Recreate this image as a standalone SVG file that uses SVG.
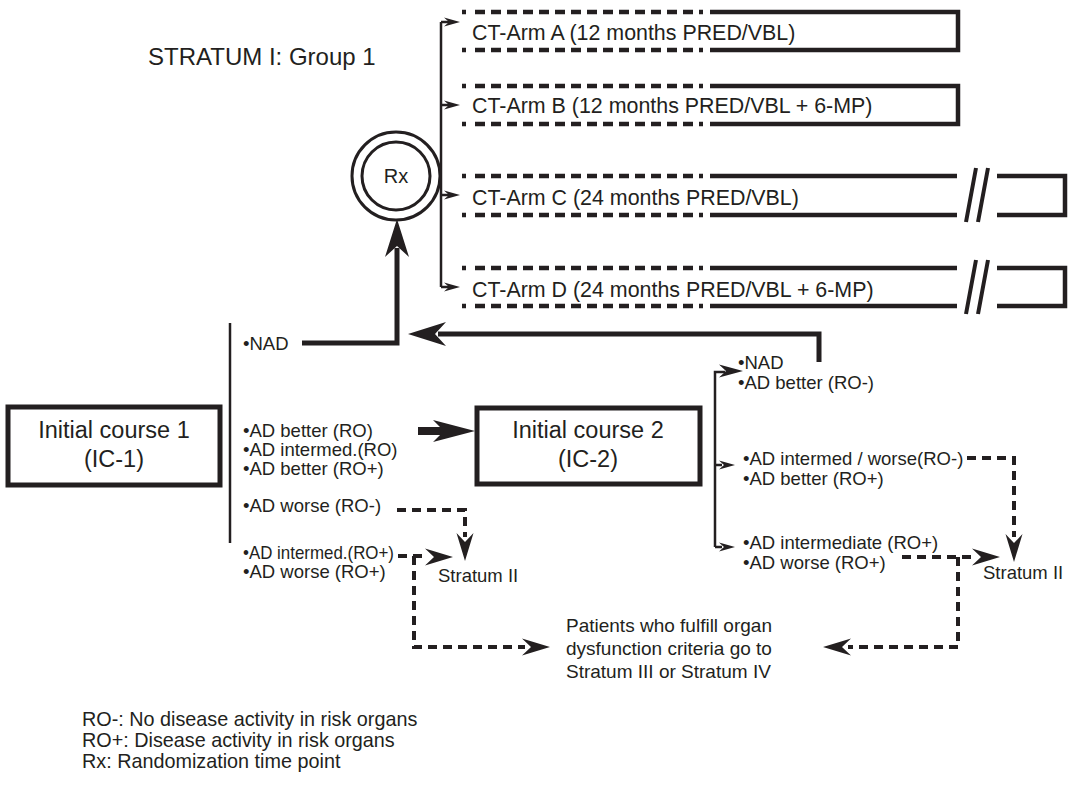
<svg xmlns="http://www.w3.org/2000/svg" xmlns:xlink="http://www.w3.org/1999/xlink" width="1069" height="786" viewBox="0 0 1069 786">
<style>
text{font-family:"Liberation Sans",Arial,Helvetica,sans-serif;fill:#231f20}
.t18{font-size:18.5px}
.t19{font-size:19px}
.t21{font-size:21.4px}
.t23{font-size:23.5px}
.leg{font-size:19.8px}
.box{fill:none;stroke:#231f20;stroke-width:5}
.solid{fill:none;stroke:#231f20;stroke-width:4.5;stroke-linejoin:miter}
.armdash{fill:none;stroke:#231f20;stroke-width:4.5;stroke-dasharray:4 9 10 6 10 6 10 6 10 6 10 6 10 6 10 6 10 6 10 6 10 6 10 6 10 6 10 6 10 6 4 100}
.thin{fill:none;stroke:#231f20;stroke-width:2.5}
.thick{fill:none;stroke:#231f20;stroke-width:5;stroke-linejoin:miter}
.fat{fill:none;stroke:#231f20;stroke-width:8}
.dash{fill:none;stroke:#231f20;stroke-width:4;stroke-dasharray:9 6}
.slash{fill:none;stroke:#231f20;stroke-width:4}
.head{fill:#231f20}
</style>
<defs>
<path id="hBig" d="M0,0 L-38,-12 L-27,0 L-38,12 Z"/>
<path id="hFat" d="M0,0 L-42,-11 L-31,0 L-42,11 Z"/>
<path id="hMed" d="M0,0 L-28,-8.5 L-19,0 L-28,8.5 Z"/>
<path id="hTop" d="M0,0 L-24,-6.5 L-17,0 L-24,6.5 Z"/>
<path id="hSmall" d="M0,0 L-16,-4.5 L-11,0 L-16,4.5 Z"/>
</defs>
<rect width="1069" height="786" fill="#fff"/>

<g id="title"><text x="148" y="65" style="font-size:24px">STRATUM I: Group 1</text></g>

<g id="rx">
<circle cx="396" cy="176" r="44" fill="none" stroke="#231f20" stroke-width="3"/>
<circle cx="396" cy="176" r="34" fill="none" stroke="#231f20" stroke-width="3"/>
<text x="396" y="183" text-anchor="middle" style="font-size:20px">Rx</text>
</g>

<g id="armA">
<path class="armdash" d="M462,12 H706"/>
<path class="armdash" d="M462,50 H706"/>
<path class="solid" d="M710,12 H958 V50 H710"/>
<text class="t21" x="472" y="40">CT-Arm A (12 months PRED/VBL)</text>
</g>
<g id="armB">
<path class="armdash" d="M462,86 H706"/>
<path class="armdash" d="M462,124 H706"/>
<path class="solid" d="M710,86 H958 V124 H710"/>
<text class="t21" x="472" y="113">CT-Arm B (12 months PRED/VBL + 6-MP)</text>
</g>
<g id="armC">
<path class="armdash" d="M462,176 H706"/>
<path class="armdash" d="M462,215 H706"/>
<path class="solid" d="M710,176 H957 M710,215 H957"/>
<path class="slash" d="M966,222 L976,168 M978,222 L988,168"/>
<path class="solid" d="M997,176 H1065 V215 H997"/>
<text class="t21" x="472" y="205">CT-Arm C (24 months PRED/VBL)</text>
</g>
<g id="armD">
<path class="armdash" d="M462,268 H706"/>
<path class="armdash" d="M462,306 H706"/>
<path class="solid" d="M710,268 H957 M710,306 H957"/>
<path class="slash" d="M966,314 L976,260 M978,314 L988,260"/>
<path class="solid" d="M997,268 H1065 V306 H997"/>
<text class="t21" x="472" y="297">CT-Arm D (24 months PRED/VBL + 6-MP)</text>
</g>

<g id="ic1">
<rect class="box" x="8" y="407" width="212" height="78"/>
<text class="t23" x="114" y="438" text-anchor="middle">Initial course 1</text>
<text class="t23" x="114" y="467" text-anchor="middle">(IC-1)</text>
</g>
<g id="ic2">
<rect class="box" x="477" y="408" width="223" height="76"/>
<text class="t23" x="588" y="438" text-anchor="middle">Initial course 2</text>
<text class="t23" x="588" y="467" text-anchor="middle">(IC-2)</text>
</g>

<g id="ic1-outcomes">
<text class="t18" x="243" y="350">•NAD</text>
<text class="t18" x="243" y="437">•AD better (RO)</text>
<text class="t18" x="243" y="456">•AD intermed.(RO)</text>
<text class="t18" x="243" y="475">•AD better (RO+)</text>
<text class="t18" x="243" y="512">•AD worse (RO-)</text>
<text class="t18" x="243" y="559" textLength="151" lengthAdjust="spacingAndGlyphs">•AD intermed.(RO+)</text>
<text class="t18" x="243" y="578">•AD worse (RO+)</text>
</g>

<g id="ic2-outcomes">
<text class="t18" x="738" y="369">•NAD</text>
<text class="t18" x="738" y="389">•AD better (RO-)</text>
<text class="t18" x="743" y="465">•AD intermed / worse(RO-)</text>
<text class="t18" x="743" y="485">•AD better (RO+)</text>
<text class="t18" x="743" y="549">•AD intermediate (RO+)</text>
<text class="t18" x="743" y="569">•AD worse (RO+)</text>
</g>

<g id="stratum2-left"><text class="t18" x="438" y="582">Stratum II</text></g>
<g id="stratum2-right"><text class="t18" x="983" y="579">Stratum II</text></g>

<g id="stratum34">
<text class="t19" x="566" y="632">Patients who fulfill organ</text>
<text class="t19" x="566" y="655">dysfunction criteria go to</text>
<text class="t19" x="566" y="678">Stratum III or Stratum IV</text>
</g>

<g id="legend">
<text class="leg" x="82" y="726">RO-: No disease activity in risk organs</text>
<text class="leg" x="82" y="747">RO+: Disease activity in risk organs</text>
<text class="leg" x="82" y="768">Rx: Randomization time point</text>
</g>

<g id="connectors">
<path class="thin" d="M441,22 V287 M441,22 H450 M441,105 H450 M441,195 H450 M441,287 H450"/>
<use class="head" xlink:href="#hSmall" transform="translate(460,22)"/>
<use class="head" xlink:href="#hSmall" transform="translate(460,105)"/>
<use class="head" xlink:href="#hSmall" transform="translate(460,195)"/>
<use class="head" xlink:href="#hSmall" transform="translate(460,287)"/>

<path class="thin" d="M230,323 V543"/>

<path class="thick" d="M302,343 H397 V248"/>
<use class="head" xlink:href="#hBig" transform="translate(397,219) rotate(-90)"/>

<path class="thick" d="M819,362 V334 H438"/>
<use class="head" xlink:href="#hBig" transform="translate(408,334) rotate(180)"/>

<path class="fat" d="M418,431 H445"/>
<use class="head" xlink:href="#hFat" transform="translate(475,431)"/>

<path class="thin" d="M715,547 V372 H725 M715,465 H722 M715,547 H722"/>
<use class="head" xlink:href="#hTop" transform="translate(743,371)"/>
<use class="head" xlink:href="#hSmall" transform="translate(735,465)"/>
<use class="head" xlink:href="#hSmall" transform="translate(735,547)"/>

<path class="dash" d="M397,510 H465 V537"/>
<use class="head" xlink:href="#hMed" transform="translate(465,561) rotate(90)"/>
<path class="dash" d="M398,556 H428"/>
<use class="head" xlink:href="#hMed" transform="translate(453,557)"/>
<path class="dash" d="M414,556 V647 H525"/>
<use class="head" xlink:href="#hMed" transform="translate(550,647)"/>

<path class="dash" d="M967,458 H1014 V537"/>
<use class="head" xlink:href="#hMed" transform="translate(1014,562) rotate(90)"/>
<path class="dash" d="M902,557 H975"/>
<use class="head" xlink:href="#hMed" transform="translate(1000,557)"/>
<path class="dash" d="M958,557 V647 H848"/>
<use class="head" xlink:href="#hMed" transform="translate(823,647) rotate(180)"/>
</g>
</svg>
